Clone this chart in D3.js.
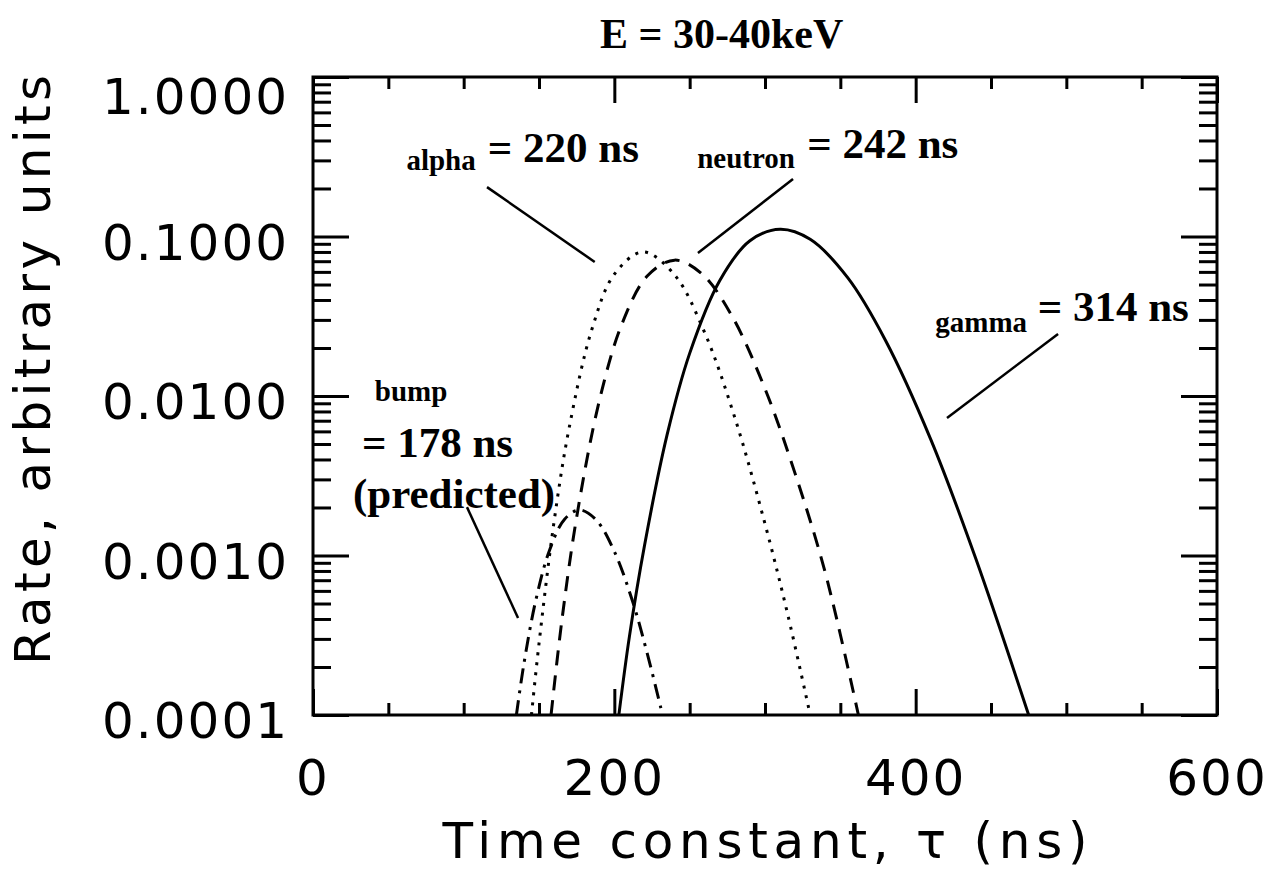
<!DOCTYPE html>
<html>
<head>
<meta charset="utf-8">
<script src="https://cdn.jsdelivr.net/npm/d3@7"></script>
<style>
body { margin: 0; background: #fff; }
</style>
</head>
<body>
<div id="chart"></div>
<script>
var wt = 1270;
var ht = 878;
var margin = {top: 77, right: 53, bottom: 163, left: 313};
var width = wt - margin.left - margin.right;
var height = ht - margin.top - margin.bottom;

// curves: [tau (ns), rate]
var gammaPts = [[203, 1.0e-4], [210, 3.1e-4], [220, 1.15e-3], [235, 5.7e-3], [250, 0.0185],
    [270, 0.053], [290, 0.094], [310, 0.111], [330, 0.096], [355, 0.055], [380, 0.0223],
    [410, 5.35e-3], [440, 9.5e-4], [475, 1.0e-4]];
var alphaPts = [[145, 1.0e-4], [150, 2.8e-4], [160, 1.63e-3], [170, 6.3e-3], [185, 0.026],
    [200, 0.058], [219, 0.080], [240, 0.0574], [260, 0.0249], [280, 7.3e-3], [300, 1.58e-3],
    [315, 4.3e-4], [330, 1.0e-4]];
var neutronPts = [[158, 1.0e-4], [165, 3.8e-4], [175, 1.74e-3], [190, 9.3e-3], [205, 0.0282],
    [222, 0.0567], [240, 0.0711], [258, 0.0585], [278, 0.0318], [300, 0.0111], [320, 3.26e-3],
    [340, 7.8e-4], [362, 1.0e-4]];
var bumpPts = [[135, 1.0e-4], [140, 2.1e-4], [148, 5.3e-4], [157, 1.08e-3], [167, 1.69e-3],
    [177, 1.93e-3], [188, 1.67e-3], [200, 1.06e-3], [212, 5.2e-4], [222, 2.4e-4], [232, 1.0e-4]];

var xMajor = [0, 200, 400, 600];
var xMinor = [50, 100, 150, 250, 300, 350, 450, 500, 550];
var yMajor = [1, 0.1, 0.01, 0.001, 0.0001];
var yLabels = ["1.0000", "0.1000", "0.0100", "0.0010", "0.0001"];

// annotations: small name, big value, anchor positions in data units, pointer line
var notes = [
    {name: "alpha", value: "= 220 ns", at: [62, 0.261], valAt: [116, 0.293], line: [[115.5, 0.204], [187, 0.0692]]},
    {name: "neutron", value: "= 242 ns", at: [255, 0.268], valAt: [328, 0.31], line: [[318.6, 0.229], [255.5, 0.0789]]},
    {name: "gamma", value: "= 314 ns", at: [413, 0.0252], valAt: [481, 0.0295], line: [[494.5, 0.0245], [420.8, 0.00728]]}
];

var svg = d3.select("#chart").append("svg")
    .attr("width", wt)
    .attr("height", ht);
svg.append("rect").attr("width", wt).attr("height", ht).attr("fill", "#fff");

var g = svg.append("g")
    .attr("transform", "translate(" + margin.left + "," + margin.top + ")");

var x = d3.scaleLinear().domain([0, 600]).range([0, width]);
var y = d3.scaleLog().domain([0.0001, 1]).range([height, 0]);

var yMinor = [];
[0.0001, 0.001, 0.01, 0.1].forEach(function (d) {
    for (var k = 2; k < 10; k++) yMinor.push(k * d);
});

svg.append("clipPath").attr("id", "clip")
    .append("rect").attr("width", width).attr("height", height);

// ticks, all pointing into the plot
function ticks(axis, vals, size, tr) {
    var a = g.append("g")
        .attr("class", "axis")
        .attr("transform", tr || null)
        .call(axis.tickValues(vals).tickSize(-size).tickFormat(""));
    a.select(".domain").remove();
    a.selectAll("line").attr("stroke", "#000").attr("stroke-width", 3);
}
ticks(d3.axisBottom(x), xMinor, 12, "translate(0," + height + ")");
ticks(d3.axisBottom(x), xMajor, 26, "translate(0," + height + ")");
ticks(d3.axisTop(x), xMinor, 12);
ticks(d3.axisTop(x), xMajor, 26);
ticks(d3.axisLeft(y), yMinor, 18);
ticks(d3.axisLeft(y), yMajor, 36);
ticks(d3.axisRight(y), yMinor, 18, "translate(" + width + ",0)");
ticks(d3.axisRight(y), yMajor, 36, "translate(" + width + ",0)");

g.append("rect")
    .attr("width", width)
    .attr("height", height)
    .attr("fill", "none")
    .attr("stroke", "#000")
    .attr("stroke-width", 3);

// tick labels
var sans = "'DejaVu Sans', sans-serif";
g.selectAll(".xlab").data(xMajor).enter().append("text")
    .attr("x", function (d) { return x(d); })
    .attr("y", height + 80)
    .attr("text-anchor", "middle")
    .style("font-family", sans)
    .style("font-size", "50px")
    .style("letter-spacing", "2px")
    .text(function (d) { return d; });

g.selectAll(".ylab").data(yMajor).enter().append("text")
    .attr("x", -24)
    .attr("y", function (d) { return Math.max(y(d), 14) + 23; })
    .attr("text-anchor", "end")
    .style("font-family", sans)
    .style("font-size", "50px")
    .style("letter-spacing", "2px")
    .text(function (d, i) { return yLabels[i]; });

svg.append("text")
    .attr("x", margin.left + width / 2)
    .attr("y", 858)
    .attr("text-anchor", "middle")
    .attr("textLength", 645)
    .attr("lengthAdjust", "spacing")
    .style("font-family", sans)
    .style("font-size", "50px")
    .text("Time constant, \u03c4 (ns)");

svg.append("text")
    .attr("transform", "translate(50," + 370 + ") rotate(-90)")
    .attr("text-anchor", "middle")
    .attr("textLength", 590)
    .attr("lengthAdjust", "spacing")
    .style("font-family", sans)
    .style("font-size", "50px")
    .text("Rate, arbitrary units");

svg.append("text")
    .attr("x", 600)
    .attr("y", 48)
    .style("font-family", "'Liberation Serif', serif")
    .style("font-weight", "bold")
    .style("font-size", "42px")
    .text("E = 30-40keV");

// curves
var line = d3.line()
    .x(function (d) { return x(d[0]); })
    .y(function (d) { return y(d[1]); })
    .curve(d3.curveCatmullRom);

var curves = [
    {pts: gammaPts, dash: null},
    {pts: alphaPts, dash: "3,7"},
    {pts: neutronPts, dash: "15,10"},
    {pts: bumpPts, dash: "15,7,3,7"}
];
var plot = g.append("g").attr("clip-path", "url(#clip)");
curves.forEach(function (c) {
    plot.append("path")
        .datum(c.pts)
        .attr("class", "line")
        .attr("fill", "none")
        .attr("stroke", "#000")
        .attr("stroke-width", 3)
        .attr("stroke-dasharray", c.dash)
        .attr("d", line);
});

// labels and pointer lines
var serif = "'Liberation Serif', serif";
var straight = d3.line().x(function (d) { return x(d[0]); }).y(function (d) { return y(d[1]); });
notes.forEach(function (n) {
    g.append("text")
        .attr("x", x(n.at[0])).attr("y", y(n.at[1]))
        .style("font-family", serif).style("font-weight", "bold").style("font-size", "29px")
        .text(n.name);
    g.append("text")
        .attr("x", x(n.valAt[0])).attr("y", y(n.valAt[1]))
        .style("font-family", serif).style("font-weight", "bold").style("font-size", "43px")
        .text(n.value);
    g.append("path")
        .datum(n.line)
        .attr("fill", "none")
        .attr("stroke", "#000")
        .attr("stroke-width", 2.5)
        .attr("d", straight);
});

// the bump note has three lines
var bumpText = [["bump", 29, 41, 0.00931], ["= 178 ns", 43, 32.5, 0.00415], ["(predicted)", 43, 26.5, 0.00199]];
bumpText.forEach(function (b) {
    g.append("text")
        .attr("x", x(b[2])).attr("y", y(b[3]))
        .style("font-family", serif).style("font-weight", "bold").style("font-size", b[1] + "px")
        .text(b[0]);
});
g.append("path")
    .datum([[102.2, 0.00201], [136.1, 4.06e-4]])
    .attr("fill", "none")
    .attr("stroke", "#000")
    .attr("stroke-width", 2.5)
    .attr("d", straight);
</script>
</body>
</html>
